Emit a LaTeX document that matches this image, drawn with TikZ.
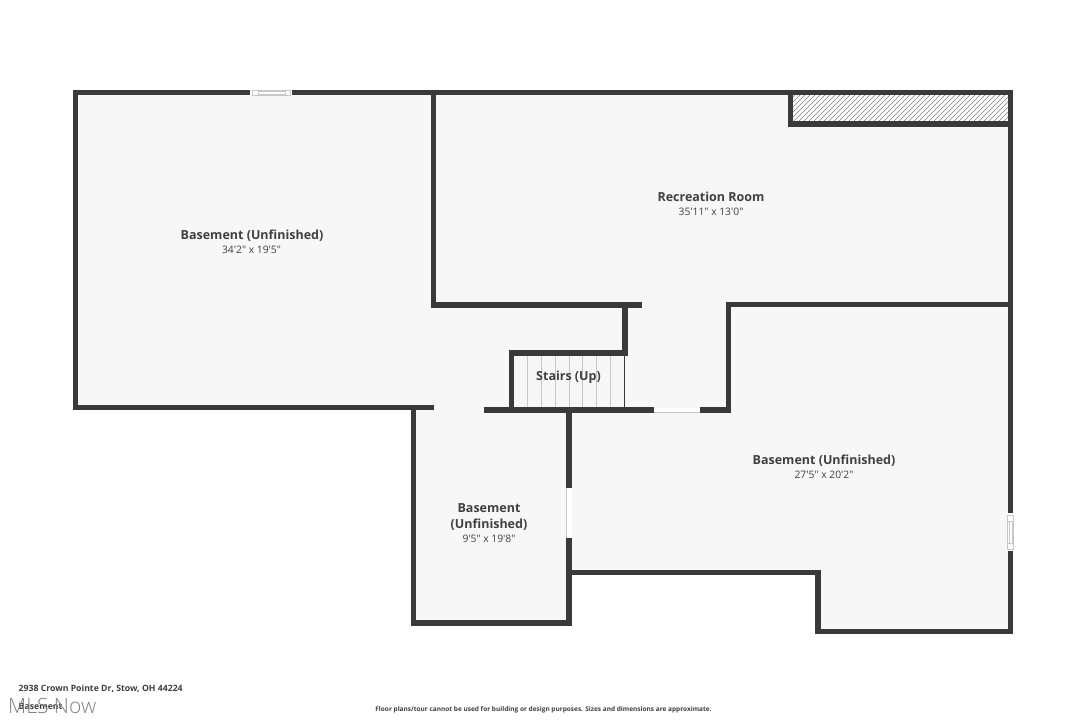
\documentclass[tikz,border=0pt]{standalone}
\usepackage{fontspec}
\setmainfont{Open Sans}[Ligatures=TeXOff]
\newfontfamily\lightfont{Open Sans Light}
\usepackage{xcolor}
\definecolor{wallgray}{HTML}{3A3A3A}
\definecolor{floorgray}{HTML}{F7F7F7}
\definecolor{textgray}{HTML}{404040}
\tikzset{
  wall/.style={line width=5.6pt,draw=wallgray,line cap=butt},
  thinline/.style={line width=0.7pt,draw=black!22},
  roomname/.style={inner sep=0pt,text=textgray,font=\fontsize{12.5}{16}\selectfont\bfseries,align=center},
  roomsize/.style={inner sep=0pt,text=textgray,font=\fontsize{10.3}{12}\selectfont},
  footer/.style={inner sep=0pt,text=textgray,font=\fontsize{8.7}{10}\selectfont\bfseries}
}
\begin{document}
\begin{tikzpicture}[x=1pt,y=-1pt]
        \useasboundingbox (0,0) rectangle (1086,724);
        \fill[white] (0,0) rectangle (1086,724);
        % floor
        \fill[floorgray] (75,92) -- (1011,92) -- (1011,632) -- (818,632) -- (818,573) -- (570,573) -- (570,623) -- (413,623) -- (413,408) -- (75,408) -- cycle;
        % closet hatching
        \begin{scope}
        \clip (792,95) rectangle (1008,122);
        \fill[white] (792,95) rectangle (1008,122);
        \foreach \i in {-40,-35,...,250}
            \draw[line width=0.6pt,black!50] (785+\i,125) -- (785+\i+32,93);
        \end{scope}
        % stairs
        \foreach \i in {527.7,541.3,555.3,569,582.7,596.7,610.3}
            \draw[thinline] (\i,355) -- (\i,408);
        \draw[line width=0.7pt,wallgray] (624.7,355) -- (624.7,408);
        % outer walls
        \draw[wall] (73,92.5) -- (1013,92.5);
        \draw[wall] (75.5,90) -- (75.5,410);
        \draw[wall] (73,407.5) -- (433.5,407.5);
        \draw[wall] (413.5,405) -- (413.5,625.8);
        \draw[wall] (410.7,623) -- (571.8,623);
        \draw[wall] (569,408) -- (569,488);
        \draw[wall] (569,538) -- (569,625.8);
        \draw[wall] (567,572.5) -- (820.8,572.5);
        \draw[wall] (818,570) -- (818,634);
        \draw[wall] (815.2,631.5) -- (1013.3,631.5);
        \draw[wall] (1010.5,90) -- (1010.5,515);
        \draw[wall] (1010.5,549) -- (1010.5,634);
        % inner walls
        \draw[wall] (433.5,92) -- (433.5,307.5);
        \draw[wall] (431,305) -- (642,305);
        \draw[wall] (625,305) -- (625,355);
        \draw[wall] (509,353) -- (627.5,353);
        \draw[wall] (511.5,351) -- (511.5,410);
        \draw[wall,line width=6pt] (483.5,410.3) -- (654,410.3);
        \draw[wall,line width=6pt] (699.5,410.3) -- (731,410.3);
        \draw[wall] (728.5,302) -- (728.5,413);
        \draw[wall] (726,304.5) -- (1011,304.5);
        % closet walls
        \draw[wall] (790.5,92) -- (790.5,126.5);
        \draw[wall] (788,124) -- (1011,124);
        % openings
        \fill[white] (654,407.5) rectangle (699.5,413);
        \draw[thinline] (654,412.8) -- (699.5,412.8);
        \fill[white] (566.3,488) rectangle (571.8,538);
        \draw[thinline] (566.3,488) -- (566.3,538);
        % windows
        \fill[white] (250,89.5) rectangle (292,96);
        \draw[thinline] (252,90) rectangle (290,95.5);
        \draw[thinline] (258,91.5) -- (285,91.5) (258,94) -- (285,94);
        \draw[thinline] (258,90) -- (258,95.5) (285,90) -- (285,95.5);
        \fill[white] (1007.3,513) rectangle (1014,551);
        \draw[thinline] (1007.8,515) rectangle (1013.5,549);
        \draw[thinline] (1009.5,521) -- (1009.5,543.5) (1012,521) -- (1012,543.5);
        \draw[thinline] (1007.8,521) -- (1013.5,521) (1007.8,543.5) -- (1013.5,543.5);
        % labels
        \node[roomname] (recname) at (711,197) {Recreation Room};
        \node[roomsize] (recsize) at (711,211.5) {35'11" x 13'0"};
        \node[roomname] (basename) at (252,236) {Basement (Unfinished)};
        \node[roomsize] (basesize) at (251.5,250) {34'2" x 19'5"};
        \node[roomname] (stairname) at (568.5,377) {Stairs (Up)};
        \node[roomname] (eastname) at (824,460.5) {Basement (Unfinished)};
        \node[roomsize] (eastsize) at (824,474.5) {27'5" x 20'2"};
        \node[roomname] (smallname) at (489,517) {Basement\\(Unfinished)};
        \node[roomsize] (smallsize) at (489,539) {9'5" x 19'8"};
        \node[footer,anchor=west] (address) at (18.5,688.5) {2938 Crown Pointe Dr, Stow, OH 44224};
        \node[footer,anchor=west] (floorname) at (18.5,706) {Basement};
        \node[inner sep=0pt,anchor=west,text=black!50,font=\lightfont\fontsize{21}{23}\selectfont] (mlsnow) at (8,705.5) {MLS Now};
        \node[inner sep=0pt,text=textgray,font=\fontsize{6.5}{8}\selectfont\bfseries] (disclaimer) at (543.5,710) {Floor plans/tour cannot be used for building or design purposes. Sizes and dimensions are approximate.};
\end{tikzpicture}
\end{document}
